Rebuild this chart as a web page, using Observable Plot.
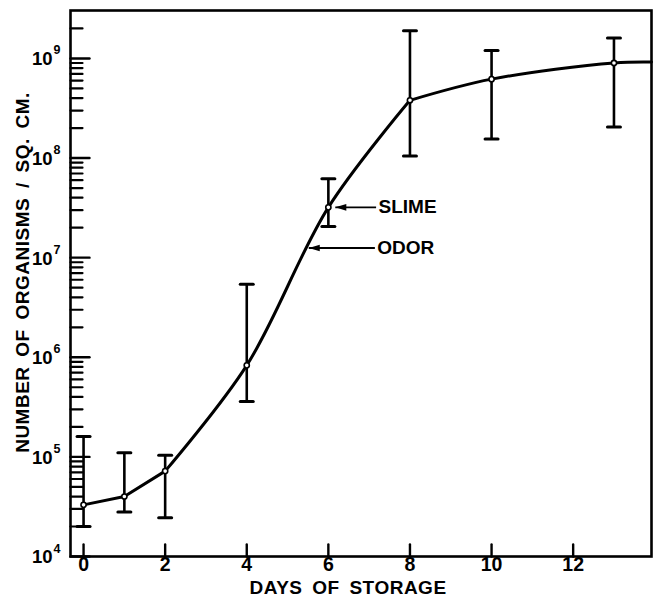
<!DOCTYPE html>
<html><head><meta charset="utf-8">
<style>body{margin:0;background:#fff;}</style>
<script src="https://cdn.jsdelivr.net/npm/d3@7"></script>
<script src="https://cdn.jsdelivr.net/npm/@observablehq/plot@0.6"></script>
</head><body><div id="chart"></div>
<script>
// ---- data ----
const days   = [0, 1, 2, 4, 6, 8, 10, 13];
const counts = [3.3e4, 4.0e4, 7.2e4, 8.3e5, 3.2e7, 3.8e8, 6.2e8, 9.0e8];
const upper  = [1.6e5, 1.1e5, 1.04e5, 5.4e6, 6.2e7, 1.9e9, 1.2e9, 1.6e9];
const lower  = [2.0e4, 2.8e4, 2.45e4, 3.6e5, 2.05e7, 1.05e8, 1.55e8, 2.05e8];
const curveEndDay = 13.92;
const curveEndCount = 9.2e8;
const curveBreakDays = [2, 8];   // the hand-drawn curve has corners here

const xTicks = [0, 2, 4, 6, 8, 10, 12];
const yDecades = [1e4, 1e5, 1e6, 1e7, 1e8, 1e9];

const noteLabels  = ["SLIME", "ODOR"];
const noteTipDay  = [6.17, 5.52];
const noteTextDay = [7.23, 7.2];
const noteCount   = [3.2e7, 1.25e7];

const xLabel = "DAYS OF STORAGE";
const yLabel = "NUMBER OF ORGANISMS / SQ. CM.";

// ---- derived tables ----
const pts = days.map((d, i) => ({day: d, count: counts[i], lo: lower[i], hi: upper[i]}));
const curvePts = pts.map(p => ({day: p.day, count: p.count})).concat([{day: curveEndDay, count: curveEndCount}]);
const bounds = [-Infinity, ...curveBreakDays, Infinity];
const curve = [];
for (let s = 0; s < bounds.length - 1; s++) {
  curvePts.filter(p => p.day >= bounds[s] && p.day <= bounds[s + 1]).forEach(p => curve.push({...p, seg: s}));
}
const yMinor = yDecades.flatMap(d => [2,3,4,5,6,7,8,9].map(m => m * d)).filter(v => v < 2.5e9);
const notes = noteLabels.map((t, i) => ({text: t, tip: noteTipDay[i], at: noteTextDay[i], count: noteCount[i]}));

// ---- shapes ----
const lineShape = {draw(ctx, l) { ctx.moveTo(0, 0); ctx.lineTo(0, -l); }};
const capShape  = {draw(ctx, l) { ctx.moveTo(-l / 2, 0); ctx.lineTo(l / 2, 0); }};
const headShape = {draw(ctx, l) { ctx.moveTo(0, 0); ctx.lineTo(-3.3, l); ctx.lineTo(3.3, l); ctx.closePath(); }};

const FONT = "Liberation Sans";

const chart = Plot.plot({
  width: 660,
  height: 602,
  marginLeft: 70,
  marginRight: 9,
  marginTop: 10,
  marginBottom: 46,
  style: {fontFamily: FONT, color: "black", background: "white", overflow: "visible"},
  x: {domain: [-0.32, 13.92], axis: null},
  y: {type: "log", domain: [1e4, 3.03e9], axis: null},
  marks: [
    // y ticks (inward)
    Plot.vector(yMinor, {y: d => d, frameAnchor: "left", rotate: 90, length: 12, shape: lineShape, anchor: "start", strokeWidth: 2.2}),
    Plot.vector(yDecades, {y: d => d, frameAnchor: "left", rotate: 90, length: 19, shape: lineShape, anchor: "start", strokeWidth: 2.4}),
    // x ticks (inward)
    Plot.vector(xTicks, {x: d => d, frameAnchor: "bottom", rotate: 0, length: 12, shape: lineShape, anchor: "start", strokeWidth: 2.4}),
    // y tick labels 10^n
    Plot.text(yDecades, {y: d => d, frameAnchor: "left", text: () => "10", textAnchor: "end", dx: -18, dy: 1, fontSize: 18.5, fontWeight: "bold"}),
    Plot.text(yDecades, {y: d => d, frameAnchor: "left", text: d => String(Math.round(Math.log10(d))), textAnchor: "start", dx: -17, dy: -8, fontSize: 12.5, fontWeight: "bold"}),
    // x tick labels
    Plot.text(xTicks, {x: d => d, frameAnchor: "bottom", text: d => String(d), dy: 14, fontSize: 19.5, fontWeight: "bold"}),
    // axis titles
    Plot.text([xLabel], {frameAnchor: "bottom", text: d => d, textAnchor: "middle", dx: -13, dy: 37, fontSize: 19, fontWeight: "bold"}),
    Plot.text([yLabel], {frameAnchor: "left", text: d => d, textAnchor: "middle", rotate: -90, dx: -48, dy: -11, fontSize: 19, fontWeight: "bold"}),
    // error bars
    Plot.ruleX(pts, {x: "day", y1: "lo", y2: "hi", strokeWidth: 2.6}),
    Plot.vector(pts, {x: "day", y: "hi", length: 13, shape: capShape, anchor: "start", strokeWidth: 3}),
    Plot.vector(pts, {x: "day", y: "lo", length: 13, shape: capShape, anchor: "start", strokeWidth: 3}),
    // growth curve: straight early segment, smooth afterwards
    Plot.line(curve.filter(d => d.seg === 0), {x: "day", y: "count", curve: "linear", strokeWidth: 3, strokeLinejoin: "round"}),
    Plot.line(curve.filter(d => d.seg > 0), {x: "day", y: "count", z: "seg", curve: "catmull-rom", strokeWidth: 3, strokeLinejoin: "round"}),
    Plot.dot(pts, {x: "day", y: "count", r: 2.6, fill: "white", stroke: "black", strokeWidth: 1.6}),
    // annotations
    Plot.link(notes, {x1: d => d.at - 0.06, x2: "tip", y1: "count", y2: "count", strokeWidth: 1.8}),
    Plot.vector(notes, {x: "tip", y: "count", rotate: 270, length: 11, shape: headShape, anchor: "start", fill: "black", strokeWidth: 1}),
    Plot.text(notes, {x: "at", y: "count", text: "text", textAnchor: "start", fontSize: 19, fontWeight: "bold"}),
    // frame
    Plot.frame({strokeWidth: 2.6})
  ]
});

d3.select(chart).selectAll("text")
  .filter(function() { return this.textContent === xLabel || this.textContent === yLabel; })
  .style("letter-spacing", "0.5px")
  .style("word-spacing", "4px");

document.getElementById("chart").appendChild(chart);
</script>
</body></html>
